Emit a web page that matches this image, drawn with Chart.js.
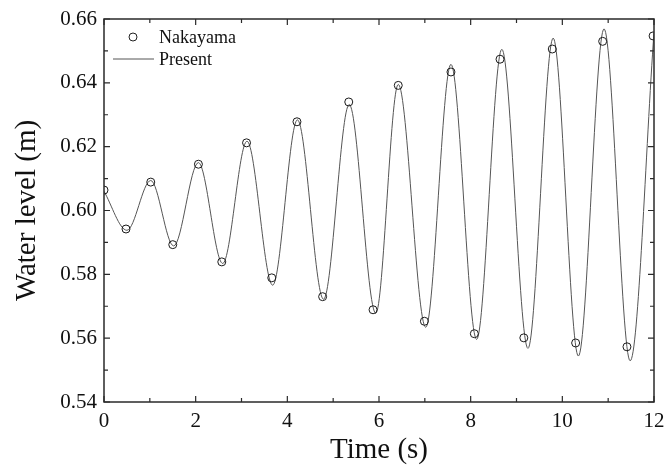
<!DOCTYPE html>
<html>
<head>
<meta charset="utf-8">
<script src="https://cdn.jsdelivr.net/npm/chart.js@4.4.1/dist/chart.umd.min.js"></script>
<style>
  html, body { margin: 0; padding: 0; background: #fff; }
  #wrap { width: 664px; height: 465px; }
</style>
</head>
<body>
<div id="wrap"><canvas id="waterChart"></canvas></div>
<script>
const nakayamaTime = [0, 0.48, 1.02, 1.50, 2.06, 2.57, 3.11, 3.66, 4.21, 4.77, 5.34, 5.87,
  6.42, 6.99, 7.57, 8.08, 8.64, 9.16, 9.78, 10.29, 10.88, 11.41, 11.98];
const nakayamaLevel = [0.6064, 0.5942, 0.6089, 0.5893, 0.6145, 0.5839, 0.6212, 0.5789, 0.6278, 0.5730,
  0.6340, 0.5689, 0.6392, 0.5653, 0.6434, 0.5614, 0.6474, 0.5601, 0.6506, 0.5585, 0.6530, 0.5573, 0.6547];

// Present simulation, peaks and troughs of the curve
const presentTime = [0, 0.50, 1.02, 1.52, 2.06, 2.59, 3.12, 3.68, 4.22, 4.79, 5.35, 5.93,
  6.42, 7.02, 7.57, 8.13, 8.68, 9.25, 9.80, 10.35, 10.91, 11.48, 12.0];
const presentLevel = [0.6060, 0.5938, 0.6094, 0.5889, 0.6150, 0.5834, 0.6217, 0.5766, 0.6284, 0.5722,
  0.6332, 0.5678, 0.6395, 0.5634, 0.6458, 0.5596, 0.6505, 0.5568, 0.6540, 0.5544, 0.6569, 0.5529, 0.6558];

const xTicks = [0, 2, 4, 6, 8, 10, 12];
const yTicks = [0.54, 0.56, 0.58, 0.60, 0.62, 0.64, 0.66];

const FONT = "'Liberation Serif', 'Times New Roman', serif";
const AXIS_COLOR = "#2a2a2a";

const toPoints = (xs, ys) => xs.map((x, i) => ({ x: x, y: ys[i] }));

// frame with inward major/minor ticks on all four sides
const framePlugin = {
  id: "frame",
  afterDatasetsDraw(chart) {
    const { ctx, chartArea: a, scales } = chart;
    const xs = scales.x, ys = scales.y;
    ctx.save();
    ctx.strokeStyle = AXIS_COLOR;
    ctx.lineWidth = 1.5;
    ctx.strokeRect(a.left, a.top, a.right - a.left, a.bottom - a.top);

    ctx.lineWidth = 1.2;
    ctx.beginPath();
    for (let t = 0; t <= 12; t += 1) {
      const len = t % 2 === 0 ? 6 : 4;
      const px = xs.getPixelForValue(t);
      ctx.moveTo(px, a.bottom); ctx.lineTo(px, a.bottom - len);
      ctx.moveTo(px, a.top); ctx.lineTo(px, a.top + len);
    }
    for (let k = 0; k <= 12; k++) {
      const v = 0.54 + k * 0.01;
      const len = k % 2 === 0 ? 6 : 4;
      const py = ys.getPixelForValue(v);
      ctx.moveTo(a.left, py); ctx.lineTo(a.left + len, py);
      ctx.moveTo(a.right, py); ctx.lineTo(a.right - len, py);
    }
    ctx.stroke();

    // legend inside the plot
    const lx = a.left, ly = a.top;
    ctx.fillStyle = "#111";
    ctx.font = "18px " + FONT;
    ctx.textBaseline = "middle";
    ctx.textAlign = "left";

    ctx.beginPath();
    ctx.lineWidth = 1;
    ctx.strokeStyle = "#222";
    ctx.arc(lx + 29, ly + 18, 4, 0, Math.PI * 2);
    ctx.stroke();
    ctx.fillText(chart.data.datasets[0].label, lx + 55, ly + 19);

    ctx.beginPath();
    ctx.strokeStyle = "#555";
    ctx.moveTo(lx + 9, ly + 40);
    ctx.lineTo(lx + 50, ly + 40);
    ctx.stroke();
    ctx.fillText(chart.data.datasets[1].label, lx + 55, ly + 41);
    ctx.restore();
  },
};

new Chart(document.getElementById("waterChart"), {
  type: "scatter",
  data: {
    datasets: [
      {
        label: "Nakayama",
        data: toPoints(nakayamaTime, nakayamaLevel),
        pointStyle: "circle",
        pointRadius: 4,
        pointBorderWidth: 1,
        pointBorderColor: "#1a1a1a",
        pointBackgroundColor: "rgba(0,0,0,0)",
        showLine: false,
        order: 0,
      },
      {
        label: "Present",
        data: toPoints(presentTime, presentLevel),
        showLine: true,
        borderColor: "#555",
        borderWidth: 1,
        pointRadius: 0,
        cubicInterpolationMode: "monotone",
        order: 1,
      },
    ],
  },
  options: {
    responsive: true,
    maintainAspectRatio: false,
    animation: false,
    layout: { padding: { top: 19, right: 10, left: 0, bottom: 0 } },
    plugins: {
      legend: { display: false },
      tooltip: { enabled: false },
    },
    scales: {
      x: {
        type: "linear",
        min: 0,
        max: 12,
        afterBuildTicks: (s) => { s.ticks = xTicks.map((v) => ({ value: v })); },
        afterFit: (s) => {
          s.height = 63;
          s.paddingLeft = 0;
          s.paddingRight = 0;
        },
        grid: { display: false, drawTicks: false },
        border: { display: false },
        ticks: {
          color: "#111",
          padding: 7,
          maxRotation: 0,
          font: { family: FONT, size: 21 },
        },
        title: {
          display: true,
          text: "Time (s)",
          color: "#111",
          font: { family: FONT, size: 29, lineHeight: 1 },
          padding: { top: 0, bottom: 0 },
        },
      },
      y: {
        type: "linear",
        min: 0.54,
        max: 0.66,
        afterBuildTicks: (s) => { s.ticks = yTicks.map((v) => ({ value: v })); },
        afterFit: (s) => {
          s.width = 104;
          s.paddingTop = 0;
          s.paddingBottom = 0;
        },
        grid: { display: false, drawTicks: false },
        border: { display: false },
        ticks: {
          color: "#111",
          padding: 7,
          font: { family: FONT, size: 21 },
          callback: (v) => Number(v).toFixed(2),
        },
        title: {
          display: true,
          text: "Water level (m)",
          color: "#111",
          font: { family: FONT, size: 29, lineHeight: 1 },
          padding: { top: 13, bottom: 0 },
        },
      },
    },
  },
  plugins: [framePlugin],
});
</script>
</body>
</html>
